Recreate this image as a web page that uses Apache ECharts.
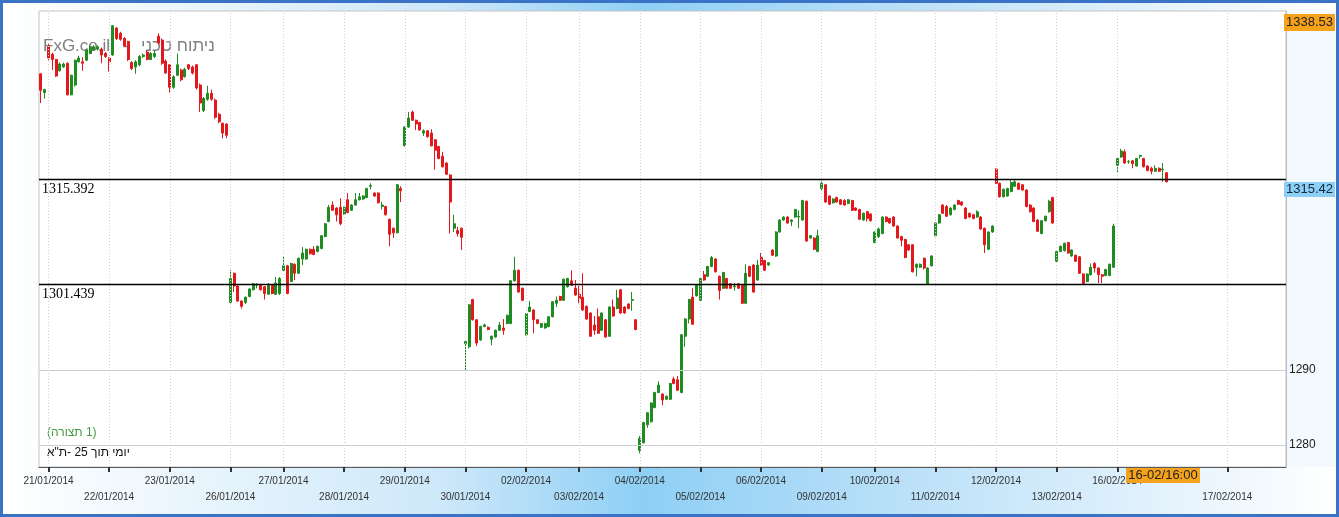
<!DOCTYPE html>
<html><head><meta charset="utf-8">
<script src="https://cdn.jsdelivr.net/npm/echarts@6/dist/echarts.min.js"></script>
<style>html,body{margin:0;padding:0;background:#fff}#c{width:1339px;height:517px}</style>
</head><body><div id="c"></div>
<script>
// ---- DATA: 30-minute candles, [open, close, low, high] ----
const d0120 = [[1329.5,1327.3,1325.6,1329.5],[1327.0,1327.4,1326.2,1327.5]];
const d0121 = [[1333.1,1331.6,1331.3,1333.6],[1332.1,1331.4,1330.0,1332.3],[1331.4,1329.2,1329.1,1331.5],[1329.9,1330.8,1329.8,1331.0],[1330.4,1330.8,1330.3,1331.0],[1330.9,1326.7,1326.6,1331.0],[1326.7,1329.3,1326.6,1329.4],[1328.0,1331.3,1327.8,1331.4],[1331.1,1331.6,1331.0,1331.9],[1331.1,1330.9,1329.9,1331.7],[1331.3,1332.7,1331.2,1332.8],[1332.2,1333.1,1332.1,1333.3],[1332.7,1333.1,1332.6,1333.3],[1332.8,1333.1,1332.6,1333.3],[1332.8,1332.0,1330.9,1333.0],[1332.2,1331.8,1331.6,1332.4]];
const d0122 = [[1331.6,1331.1,1329.8,1331.7],[1332.0,1335.9,1331.9,1336.0],[1335.6,1334.2,1334.0,1335.7],[1334.9,1334.1,1333.9,1335.1],[1334.2,1333.2,1333.1,1334.4],[1333.8,1331.4,1331.2,1333.9],[1331.0,1330.2,1330.0,1331.2],[1330.4,1331.1,1329.5,1331.3],[1330.7,1331.8,1330.5,1332.0],[1331.8,1332.0,1331.6,1332.2],[1332.4,1331.4,1331.3,1332.6],[1331.4,1332.2,1331.3,1332.4],[1331.8,1332.2,1331.6,1332.6],[1334.5,1333.6,1333.4,1334.9],[1334.0,1330.9,1330.7,1334.2],[1331.2,1329.6,1329.5,1331.4]];
const d0123 = [[1330.7,1327.7,1327.0,1330.8],[1327.7,1329.1,1327.5,1329.3],[1329.3,1330.7,1329.2,1332.2],[1330.0,1328.7,1328.5,1330.2],[1329.1,1330.1,1329.0,1330.3],[1330.7,1330.2,1330.0,1330.8],[1330.4,1329.6,1329.4,1330.6],[1330.7,1327.6,1327.4,1330.8],[1328.0,1325.6,1324.4,1328.2],[1324.6,1326.2,1324.4,1326.4],[1326.1,1326.9,1325.9,1327.9],[1326.9,1326.1,1325.9,1327.4],[1326.0,1323.7,1323.5,1326.2],[1324.1,1323.1,1322.9,1324.3],[1322.9,1321.6,1320.9,1323.0],[1322.8,1321.3,1320.9,1322.9]];
const d0126 = [[1299.0,1302.2,1298.9,1303.3],[1302.9,1301.2,1300.4,1303.0],[1301.2,1299.2,1299.1,1301.3],[1299.2,1298.5,1298.2,1299.3],[1299.0,1299.7,1298.8,1299.8],[1299.8,1300.8,1299.7,1300.9],[1300.7,1301.5,1300.6,1301.6],[1301.3,1301.4,1300.9,1301.6],[1301.3,1300.7,1300.6,1301.4],[1301.1,1300.2,1299.4,1301.2],[1300.1,1301.3,1300.0,1301.6],[1301.3,1300.2,1300.1,1301.4],[1300.1,1301.6,1300.0,1302.4],[1300.2,1302.2,1300.0,1302.4]];
const d0127 = [[1303.3,1303.9,1303.2,1305.2],[1303.9,1300.2,1300.1,1304.0],[1301.8,1304.2,1301.7,1304.3],[1304.1,1302.9,1302.0,1304.2],[1302.9,1304.9,1302.8,1305.0],[1304.8,1305.6,1304.0,1306.4],[1304.8,1306.1,1304.7,1306.2],[1306.1,1305.5,1305.4,1306.2],[1306.1,1305.4,1305.3,1306.5],[1305.8,1306.5,1305.7,1306.6],[1306.2,1307.9,1306.1,1308.0],[1307.8,1309.5,1307.7,1309.6],[1309.8,1311.7,1309.7,1312.0],[1312.0,1311.3,1311.2,1312.5],[1311.6,1310.7,1309.8,1311.7],[1311.7,1309.5,1309.3,1312.9]];
const d0128 = [[1310.8,1311.7,1310.7,1311.8],[1312.7,1311.0,1310.9,1313.6],[1311.3,1312.0,1311.2,1312.1],[1312.0,1312.7,1311.9,1313.6],[1312.7,1313.1,1312.6,1313.6],[1312.8,1313.2,1312.7,1313.3],[1313.0,1314.2,1312.9,1314.3],[1314.5,1314.6,1314.1,1314.9],[1313.6,1313.2,1313.1,1313.7],[1313.6,1312.3,1312.2,1313.7],[1311.8,1312.0,1311.4,1312.4],[1311.8,1310.7,1310.6,1311.9],[1310.1,1308.1,1306.5,1310.2],[1308.9,1308.3,1307.6,1309.0],[1308.3,1314.7,1308.2,1314.8],[1314.2,1313.9,1312.4,1314.5]];
const d0129 = [[1319.9,1322.4,1319.8,1322.5],[1322.4,1323.6,1322.3,1324.4],[1324.4,1323.3,1323.2,1324.6],[1323.3,1322.8,1322.0,1323.4],[1323.0,1322.0,1321.9,1323.1],[1321.6,1321.9,1321.2,1322.1],[1321.9,1321.1,1321.0,1322.0],[1321.6,1319.9,1319.8,1322.1],[1320.7,1319.3,1316.7,1320.8],[1319.8,1318.2,1318.1,1319.9],[1318.5,1317.1,1317.0,1319.1],[1317.6,1316.1,1316.0,1317.7],[1316.0,1312.4,1308.2,1316.1],[1308.9,1309.5,1308.4,1310.7],[1308.6,1308.2,1307.8,1309.1],[1308.9,1307.7,1306.0,1309.0]];
const d0130 = [[1293.5,1293.8,1289.9,1294.0],[1293.1,1298.7,1292.9,1298.8],[1299.4,1296.7,1296.6,1299.5],[1296.7,1293.6,1293.2,1296.8],[1294.0,1295.8,1293.9,1295.9],[1295.8,1296.0,1295.7,1296.2],[1295.7,1295.4,1295.3,1295.8],[1294.1,1294.5,1293.3,1294.6],[1294.4,1295.3,1294.3,1295.4],[1295.3,1296.0,1295.2,1296.4],[1295.6,1295.3,1294.7,1296.8],[1296.2,1297.3,1296.1,1297.4],[1296.2,1301.9,1296.1,1302.0],[1301.9,1303.3,1301.8,1305.1],[1303.3,1300.4,1300.3,1303.4],[1300.9,1299.3,1299.2,1301.0]];
const d0202 = [[1294.7,1297.5,1294.6,1297.6],[1297.8,1298.4,1297.7,1299.2],[1298.0,1296.7,1294.9,1298.1],[1296.7,1296.2,1296.1,1296.8],[1295.7,1296.2,1295.6,1296.3],[1295.6,1296.2,1295.5,1296.3],[1295.8,1297.1,1295.7,1297.2],[1297.1,1299.1,1297.0,1299.2],[1298.9,1299.3,1298.4,1299.8],[1299.8,1299.3,1299.2,1299.9],[1299.3,1302.1,1299.2,1302.2],[1301.1,1302.2,1301.0,1302.3],[1301.9,1301.3,1301.2,1303.3],[1300.9,1300.0,1299.9,1302.0]];
const d0203 = [[1300.1,1299.5,1298.9,1301.2],[1299.7,1298.0,1297.9,1302.9],[1298.5,1296.8,1296.7,1298.6],[1297.6,1294.5,1294.4,1297.7],[1296.0,1295.3,1294.7,1297.2],[1297.1,1294.9,1294.8,1298.2],[1295.3,1297.6,1295.2,1297.7],[1296.7,1294.4,1294.3,1296.8],[1294.5,1298.4,1294.4,1298.5],[1298.4,1297.2,1297.1,1299.4],[1298.2,1299.6,1298.1,1300.7],[1300.7,1297.6,1297.5,1300.8],[1298.4,1297.6,1297.5,1298.5],[1298.8,1298.2,1298.1,1298.9],[1299.3,1299.4,1297.9,1300.4],[1296.7,1295.4,1295.3,1296.8]];
const d0204 = [[1279.3,1280.9,1278.9,1281.2],[1280.3,1283.0,1280.2,1283.1],[1282.7,1284.3,1282.3,1284.4],[1283.1,1285.6,1283.0,1285.7],[1285.0,1287.0,1284.9,1287.1],[1287.0,1288.0,1286.9,1288.5],[1286.8,1286.0,1285.3,1286.9],[1286.1,1286.5,1286.0,1286.6],[1286.1,1288.2,1286.0,1288.3],[1288.8,1288.2,1288.1,1289.1],[1288.7,1287.3,1287.2,1289.2],[1287.0,1294.7,1286.9,1294.8],[1294.5,1296.8,1293.1,1296.9],[1296.8,1299.4,1296.2,1299.5],[1299.7,1296.1,1296.0,1300.9],[1299.9,1301.3,1299.8,1301.4]];
const d0205 = [[1299.3,1302.2,1299.2,1302.3],[1302.7,1302.0,1301.9,1303.2],[1302.5,1303.8,1302.4,1303.9],[1303.8,1305.0,1303.7,1305.2],[1304.8,1303.1,1303.0,1304.9],[1302.5,1300.6,1299.4,1302.6],[1300.9,1303.0,1300.8,1303.1],[1302.2,1300.9,1300.8,1302.3],[1301.5,1300.9,1300.8,1301.6],[1301.1,1301.2,1300.6,1301.6],[1301.5,1300.9,1300.8,1301.6],[1301.3,1298.9,1298.8,1301.4],[1298.9,1302.9,1298.8,1304.1],[1303.8,1302.5,1302.4,1303.9],[1304.0,1300.4,1300.3,1304.1],[1302.0,1304.0,1301.9,1304.7]];
const d0206 = [[1305.0,1304.0,1303.9,1305.6],[1304.6,1303.3,1303.2,1304.7],[1304.0,1304.3,1303.9,1304.4],[1306.0,1305.3,1305.2,1306.1],[1305.2,1308.4,1305.1,1308.5],[1308.4,1310.0,1308.3,1310.1],[1310.0,1310.4,1309.9,1310.5],[1310.4,1309.6,1309.5,1310.5],[1309.8,1310.0,1309.2,1310.1],[1310.4,1311.4,1310.3,1311.5],[1310.4,1310.5,1308.9,1311.3],[1310.0,1312.6,1309.9,1312.7],[1312.5,1307.2,1307.1,1312.6],[1307.6,1307.9,1307.5,1308.0],[1307.6,1306.1,1306.0,1307.7],[1305.8,1307.9,1305.7,1308.7]];
const d0209 = [[1314.2,1314.9,1314.0,1315.3],[1314.7,1312.4,1312.3,1314.8],[1313.2,1312.1,1312.0,1313.3],[1312.3,1312.8,1312.2,1312.9],[1313.0,1312.4,1312.3,1313.1],[1312.7,1312.1,1312.0,1312.8],[1312.6,1312.0,1311.9,1312.8],[1312.2,1312.7,1312.1,1312.8],[1312.6,1311.3,1311.2,1312.7],[1311.6,1311.3,1311.2,1311.7],[1311.4,1310.1,1310.0,1311.5],[1310.0,1310.9,1309.9,1311.0],[1311.1,1310.2,1309.8,1311.2],[1310.8,1309.9,1309.8,1310.9]];
const d0210 = [[1307.0,1308.4,1306.9,1308.5],[1307.8,1308.8,1307.6,1309.0],[1308.2,1310.4,1308.1,1310.5],[1310.4,1309.8,1309.7,1310.5],[1310.2,1309.6,1309.5,1310.3],[1310.4,1309.2,1309.1,1310.5],[1309.2,1307.6,1307.5,1309.3],[1307.8,1307.3,1306.5,1307.9],[1307.4,1305.0,1304.9,1307.5],[1306.7,1306.0,1305.9,1306.8],[1306.7,1303.1,1303.0,1306.8],[1303.7,1304.1,1302.5,1304.2],[1303.7,1304.1,1303.6,1304.2],[1304.9,1303.6,1303.4,1305.0],[1301.5,1303.6,1301.4,1303.7],[1303.9,1305.2,1303.8,1305.3]];
const d0211 = [[1307.9,1309.6,1307.8,1309.7],[1309.6,1310.7,1309.5,1310.8],[1312.0,1310.9,1310.8,1312.1],[1311.8,1310.5,1310.4,1312.0],[1310.7,1311.6,1310.6,1311.7],[1311.4,1312.0,1311.3,1312.1],[1312.6,1312.1,1312.0,1312.7],[1312.4,1312.0,1311.9,1312.5],[1311.6,1310.2,1310.1,1311.7],[1310.9,1310.4,1310.3,1311.0],[1310.7,1310.2,1310.1,1310.8],[1310.4,1311.1,1310.3,1311.3],[1310.4,1308.8,1308.7,1310.5],[1308.9,1306.7,1305.6,1309.0],[1306.1,1308.4,1306.0,1308.5],[1308.4,1309.2,1308.3,1309.3]];
const d0212 = [[1316.8,1314.9,1314.8,1316.9],[1314.9,1313.1,1313.0,1315.0],[1313.1,1314.1,1313.0,1314.2],[1313.2,1314.2,1313.1,1314.3],[1313.8,1315.0,1313.7,1315.3],[1314.5,1315.1,1314.4,1315.3],[1314.9,1314.1,1314.0,1315.0],[1314.7,1314.0,1313.9,1314.8],[1314.0,1311.8,1311.7,1314.1],[1312.0,1311.1,1311.0,1312.1],[1311.6,1309.8,1309.7,1311.7],[1310.0,1308.5,1308.4,1310.1],[1308.2,1309.9,1308.1,1310.0],[1309.9,1310.5,1309.8,1310.6],[1311.1,1312.5,1311.0,1312.7],[1313.0,1309.6,1309.5,1313.1]];
const d0213 = [[1304.5,1305.8,1304.4,1305.9],[1305.8,1306.5,1305.7,1306.6],[1305.9,1306.9,1305.8,1307.0],[1307.0,1305.6,1305.5,1307.1],[1305.2,1306.0,1305.1,1306.1],[1305.3,1304.5,1304.4,1305.4],[1305.1,1302.9,1302.8,1305.2],[1302.8,1301.5,1301.4,1302.9],[1301.8,1302.8,1301.7,1302.9],[1302.7,1303.7,1302.6,1304.2],[1304.2,1303.6,1303.0,1304.4],[1303.6,1302.7,1301.6,1303.7],[1302.7,1302.5,1301.6,1302.8],[1302.6,1303.4,1302.5,1303.5],[1302.6,1304.1,1302.5,1304.2],[1303.7,1309.2,1303.6,1309.5]];
const d0216 = [[1317.3,1318.2,1316.4,1318.4],[1318.4,1319.2,1318.3,1319.5],[1319.1,1317.6,1317.5,1319.4],[1317.75,1317.8,1317.5,1318.0],[1317.9,1317.5,1316.9,1318.0],[1317.2,1318.2,1317.1,1318.3],[1318.5,1318.6,1318.2,1318.7],[1318.2,1317.1,1317.0,1318.3],[1317.2,1316.6,1316.5,1317.3],[1316.9,1316.5,1316.1,1317.1],[1316.5,1316.9,1316.4,1317.3],[1316.9,1316.5,1316.4,1317.0],[1316.7,1316.8,1315.1,1317.6],[1316.3,1315.1,1315.0,1316.4]];

const sessions = [
  ['20/01/2014', d0120], ['21/01/2014', d0121], ['22/01/2014', d0122], ['23/01/2014', d0123],
  ['26/01/2014', d0126], ['27/01/2014', d0127], ['28/01/2014', d0128], ['29/01/2014', d0129],
  ['30/01/2014', d0130], ['02/02/2014', d0202], ['03/02/2014', d0203], ['04/02/2014', d0204],
  ['05/02/2014', d0205], ['06/02/2014', d0206], ['09/02/2014', d0209], ['10/02/2014', d0210],
  ['11/02/2014', d0211], ['12/02/2014', d0212], ['13/02/2014', d0213], ['16/02/2014', d0216]
];
// empty future slots on the time axis: [session label, slot count]
const futureSlots = [['', 15], ['17/02/2014', 16]];
const tickLabels = ['21/01/2014','22/01/2014','23/01/2014','26/01/2014','27/01/2014','28/01/2014','29/01/2014','30/01/2014','02/02/2014','03/02/2014','04/02/2014','05/02/2014','06/02/2014','09/02/2014','10/02/2014','11/02/2014','12/02/2014','13/02/2014','16/02/2014','17/02/2014'];
const levelLines = [1315.392, 1301.439];
const yLabelValues = [1280, 1290];
const yMin = 1277.07, yMax = 1337.87;
const maxTag = '1338.53', lastTag = '1315.42', timeTag = '16-02/16:00';
// text pieces, drawn left to right as in the reference
const watermarkParts = ['FxG.co.il', '-', 'ניתוח טכני'];
const noteGreenParts = ['(', 'תצורה', ' 1)'];
const noteBlackParts = ['ת"א-', ' 25 ', 'תוך', ' ', 'יומי'];

// ---- build category axis + series ----
const categories = [], ohlc = [], tickIdx = [];
sessions.forEach(([date, rows]) => {
  rows.forEach((r, k) => {
    if (k === 0 && tickLabels.includes(date)) tickIdx.push(categories.length);
    categories.push(date + ' #' + k);
    ohlc.push(r);
  });
});
futureSlots.forEach(([date, n]) => {
  for (let k = 0; k < n; k++) {
    if (k === 0 && tickLabels.includes(date)) tickIdx.push(categories.length);
    categories.push((date || 'f') + ' #' + k);
  }
});
const tickSet = new Set(tickIdx);
const richText = (parts) => parts.map(p => '{t|' + p + '}').join('');

const GREEN = '#1f8c22', RED = '#e3181d';
const FONT = '"Liberation Sans", Arial, sans-serif';
const chart = echarts.init(document.getElementById('c'), null, {renderer: 'canvas'});
chart.setOption({
  animation: false,
  backgroundColor: 'transparent',
  grid: {left: 39, right: 53, top: 11, bottom: 50, show: true, backgroundColor: '#ffffff', borderColor: '#c4c4c4', borderWidth: 1},
  xAxis: {
    type: 'category', data: categories, boundaryGap: true,
    axisLine: {show: true, lineStyle: {color: '#5a5a5a', width: 1}},
    axisTick: {show: true, alignWithLabel: true, interval: (i) => tickSet.has(i), length: 5, lineStyle: {color: '#333', width: 2}},
    axisLabel: {
      interval: (i) => tickSet.has(i), margin: 6, fontSize: 10, lineHeight: 16,
      fontFamily: FONT, color: '#333',
      formatter: (val, i) => { const t = tickIdx.indexOf(i); if (t < 0) return ''; const l = val.split(' ')[0]; return t % 2 ? '\n' + l : l; }
    },
    splitLine: {show: false}
  },
  yAxis: {
    type: 'value', position: 'right', min: yMin, max: yMax, scale: true,
    axisLine: {show: true, lineStyle: {color: '#aebfd0'}},
    axisTick: {show: false},
    splitLine: {show: false},
    axisLabel: {customValues: yLabelValues, formatter: (v) => String(v), margin: 3, fontSize: 12, color: '#222', fontFamily: FONT}
  },
  graphic: [
    {type: 'rect', z: -20, silent: true, shape: {x: 0, y: 0, width: 1339, height: 517}, style: {fill: '#3a72c6'}},
    {type: 'rect', z: -19, silent: true, shape: {x: 3, y: 3, width: 1333, height: 511}, style: {fill: new echarts.graphic.LinearGradient(0, 0, 1, 0, [
      {offset: 0, color: '#ffffff'}, {offset: 0.33, color: '#cde8fa'}, {offset: 0.48, color: '#8ecff5'},
      {offset: 0.66, color: '#b7dff8'}, {offset: 0.9, color: '#eaf5fd'}, {offset: 1, color: '#ffffff'}])}},
    {type: 'rect', z: -18, silent: true, shape: {x: 1286, y: 11, width: 50, height: 456}, style: {fill: '#f4f9fe'}},
    {type: 'text', z: 1, silent: true, x: 43, y: 46, style: {
      text: '{t|' + watermarkParts[0] + '}{s|' + watermarkParts[1] + '}{t|' + watermarkParts[2] + '}',
      rich: {t: {fill: 'rgba(105,105,105,0.85)', font: '17px ' + FONT}, s: {fill: 'rgba(105,105,105,0.85)', font: '17px ' + FONT, width: 31, align: 'center'}},
      verticalAlign: 'middle', align: 'left'}},
    {type: 'text', z: 5, silent: true, x: 47, y: 433, style: {text: richText(noteGreenParts), rich: {t: {fill: '#3f9a3f', font: '12px ' + FONT}}, verticalAlign: 'middle', align: 'left'}},
    {type: 'text', z: 5, silent: true, x: 47, y: 453, style: {text: richText(noteBlackParts), rich: {t: {fill: '#111', font: '12px ' + FONT}}, verticalAlign: 'middle', align: 'left'}},
    {type: 'rect', z: 10, silent: true, shape: {x: 1284, y: 14, width: 51, height: 17}, style: {fill: '#f7a21b'}},
    {type: 'text', z: 11, silent: true, x: 1309.5, y: 22.5, style: {text: maxTag, fill: '#222', font: '13px ' + FONT, verticalAlign: 'middle', align: 'center'}},
    {type: 'rect', z: 10, silent: true, shape: {x: 1284, y: 182, width: 51, height: 15}, style: {fill: '#8dd0f6'}},
    {type: 'text', z: 11, silent: true, x: 1309.5, y: 189.5, style: {text: lastTag, fill: '#13283c', font: '13px ' + FONT, verticalAlign: 'middle', align: 'center'}},
    {type: 'rect', z: 10, silent: true, shape: {x: 1126, y: 468, width: 74, height: 15}, style: {fill: '#f5a31c'}},
    {type: 'text', z: 11, silent: true, x: 1163, y: 475.5, style: {text: timeTag, fill: '#222', font: '13px ' + FONT, verticalAlign: 'middle', align: 'center'}}
  ],
  series: [
    {
      type: 'line', data: [], z: 1, silent: true,
      markLine: {
        silent: true, animation: false, symbol: ['none', 'none'], label: {show: false},
        data: [
          ...tickIdx.map(i => ({xAxis: categories[i], lineStyle: {color: '#d2d2d2', type: [1, 2], width: 1}})),
          ...yLabelValues.map(v => ({yAxis: v, lineStyle: {color: '#cdcdcd', type: 'solid', width: 1}}))
        ]
      }
    },
    {
      type: 'candlestick', data: ohlc, z: 3, barWidth: 2.5,
      itemStyle: {color: GREEN, color0: RED, borderColor: GREEN, borderColor0: RED, borderWidth: 1},
      markLine: {
        silent: true, animation: false, symbol: ['none', 'none'], precision: 3,
        data: levelLines.map(v => ({yAxis: v, label: {formatter: String(v)}})),
        lineStyle: {color: '#000', type: 'solid', width: 1.3},
        label: {show: true, position: 'insideStartBottom', distance: [3, 3], color: '#000', fontSize: 14, fontFamily: '"Liberation Serif", "DejaVu Serif", serif'}
      }
    }
  ]
});
</script></body></html>
